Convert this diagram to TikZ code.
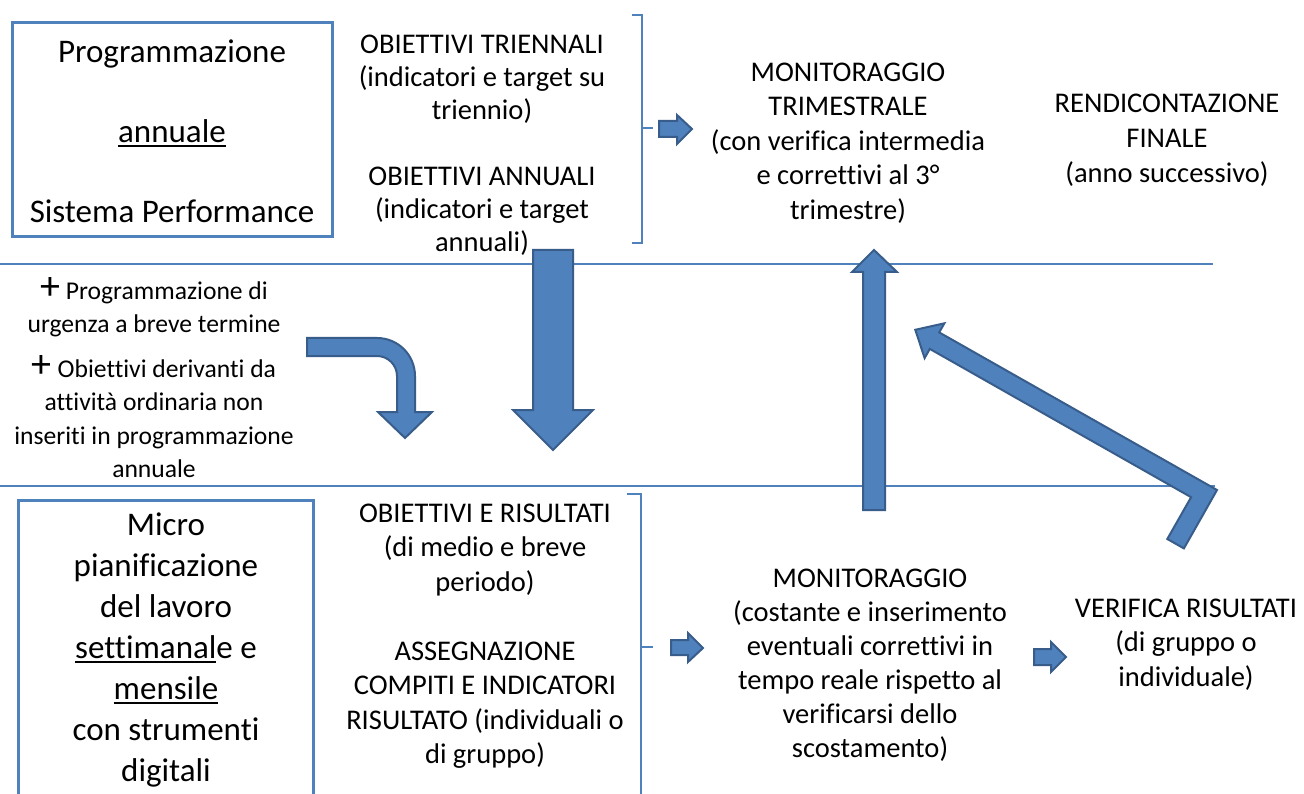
\documentclass[tikz,border=0pt]{standalone}
\usepackage{fontspec}
\setmainfont{Carlito}[Ligatures=NoCommon]
\definecolor{lineblue}{HTML}{4F81BD}
\definecolor{arrowfill}{HTML}{4F81BD}
\definecolor{arrowedge}{HTML}{385D8A}
\newcommand\myul[1]{\setbox0\hbox{#1}\rlap{\rule[-4.5pt]{\wd0}{1.6pt}}\box0}
\newcommand\bigplus{{\fontsize{40}{33.5}\selectfont +}}
\tikzset{
  frame/.style={draw=lineblue, line width=3pt},
  rule/.style={draw=lineblue, line width=1.6pt},
  brk/.style={draw=lineblue, line width=2.6pt},
  blockarrow/.style={fill=arrowfill, draw=arrowedge, line width=2pt, line join=miter},
  txt/.style={align=center, inner sep=0pt, anchor=north, text=black},
  bigtxt/.style={txt, font=\fontsize{33}{41}\selectfont},
  boxtxt/.style={txt, font=\fontsize{33}{40}\selectfont},
  midtxt/.style={txt, font=\fontsize{28.5}{33}\selectfont},
  smalltxt/.style={txt, font=\fontsize{25.6}{33.5}\selectfont}
}
\begin{document}
\begin{tikzpicture}[x=1pt, y=-1pt]
\useasboundingbox (0,0) rectangle (1304,794);
\fill[white] (0,0) rectangle (1304,794);

% horizontal separators
\draw[rule] (0,264) -- (1213,264);
\draw[rule] (0,486) -- (1215,486);

% boxes
\draw[frame] (12,23) rectangle (332,237);
\draw[frame] (18,500) rectangle (313,810);

% brackets
\draw[brk] (632,15) -- (642,15) -- (642,243) -- (632,243);
\draw[brk] (642,128) -- (653,128);
\draw[brk] (627,494) -- (641,494) -- (641,810);
\draw[brk] (641,647) -- (653,647);

% small arrows
\draw[blockarrow] (659,121) -- (677,121) -- (677,115) -- (692,129) -- (677,144) -- (677,137) -- (659,137) -- cycle;
\draw[blockarrow] (671,640) -- (688,640) -- (688,633) -- (703,648) -- (688,662) -- (688,655) -- (671,655) -- cycle;
\draw[blockarrow] (1034,649) -- (1051,649) -- (1051,642) -- (1066,657) -- (1051,672) -- (1051,665) -- (1034,665) -- cycle;

% big down arrow
\draw[blockarrow] (533,250) -- (573,250) -- (573,410) -- (593,410) -- (553,450) -- (513,410) -- (533,410) -- cycle;

% bent arrow (left)
\draw[blockarrow] (307,338) -- (377,338) .. controls (398,338) and (415,355) .. (415,376)
  -- (415,412) -- (432,412) -- (405,438) -- (378,412) -- (397,412) -- (397,376)
  .. controls (397,365) and (388,356) .. (377,356) -- (307,356) -- cycle;

% up arrow
\draw[blockarrow] (863,510) -- (885,510) -- (885,272) -- (897,272) -- (874,250) -- (852,272) -- (863,272) -- cycle;

% bent arrow (right)
\draw[blockarrow] (915.3,329.8) -- (944.4,323.3) -- (939.2,332.4) -- (1217,490) -- (1183.9,548.4)
  -- (1167.3,539.0) -- (1191.1,497.2) -- (929.8,348.9) -- (924.6,358.1) -- cycle;

% texts
\node[boxtxt] (prog) at (172,34) {\strut Programmazione\\[40pt]\myul{annuale}\\[40pt]Sistema Performance};
\node[midtxt] (obtop) at (482,29.9) {\strut OBIETTIVI TRIENNALI\\(indicatori e target su\\triennio)\\[33pt]OBIETTIVI ANNUALI\\(indicatori e target\\annuali)};
\node[txt, font=\fontsize{28.5}{34.5}\selectfont] (montri) at (848,56.9) {\strut MONITORAGGIO\\TRIMESTRALE\\(con verifica intermedia\\e correttivi al 3°\\trimestre)};
\node[txt, font=\fontsize{28.5}{35}\selectfont] (rend) at (1167,87.5) {\strut RENDICONTAZIONE\\FINALE\\(anno successivo)};
\node[smalltxt] (extra) at (154,275.6) {\strut\bigplus{} Programmazione di\\urgenza a breve termine\\[11pt]\bigplus{} Obiettivi derivanti da\\attività ordinaria non\\inseriti in programmazione\\annuale};
\node[bigtxt] (micro) at (166,506.3) {\strut Micro\\pianificazione\\del lavoro\\\myul{settimanal}e e\\\myul{mensile}\\con strumenti\\digitali};
\node[txt, font=\fontsize{28.5}{34.5}\selectfont] (obbot) at (485,497.9) {\strut OBIETTIVI E RISULTATI\\(di medio e breve\\periodo)\\[34.5pt]ASSEGNAZIONE\\COMPITI E INDICATORI\\RISULTATO (individuali o\\di gruppo)};
\node[txt, font=\fontsize{28.5}{34}\selectfont] (monbot) at (870,563.2) {\strut MONITORAGGIO\\(costante e inserimento\\eventuali correttivi in\\tempo reale rispetto al\\verificarsi dello\\scostamento)};
\node[txt, font=\fontsize{28.5}{34.5}\selectfont] (verif) at (1186,592.9) {\strut VERIFICA RISULTATI\\(di gruppo o\\individuale)};
\end{tikzpicture}
\end{document}
